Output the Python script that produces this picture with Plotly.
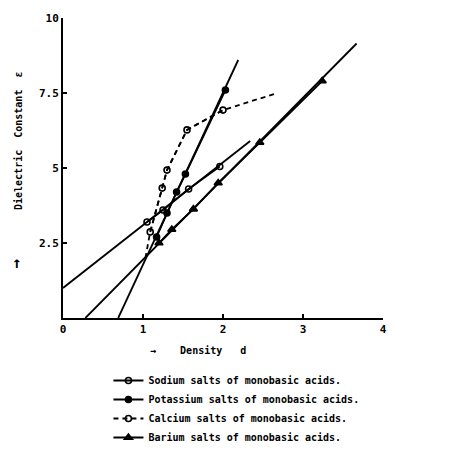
import plotly.graph_objects as go

# Data: full line extents
sodium_line_x = [0.0, 2.34]
sodium_line_y = [1.0, 5.9]
potassium_line_x = [0.69, 2.19]
potassium_line_y = [0.0, 8.6]
calcium_line_x = [1.03, 1.09, 1.24, 1.3, 1.55, 2.0, 2.68]
calcium_line_y = [2.0, 2.87, 4.33, 4.93, 6.27, 6.93, 7.5]
barium_line_x = [0.28, 3.67]
barium_line_y = [0.0, 9.15]

# Measured points (markers)
sodium_x = [1.05, 1.25, 1.57, 1.96]
sodium_y = [3.2, 3.6, 4.3, 5.05]
potassium_x = [1.17, 1.3, 1.42, 1.53, 2.03]
potassium_y = [2.7, 3.5, 4.2, 4.8, 7.6]
calcium_x = [1.09, 1.24, 1.3, 1.55, 2.0]
calcium_y = [2.87, 4.33, 4.93, 6.27, 6.93]
barium_x = [1.2, 1.36, 1.63, 1.94, 2.46, 3.24]
barium_y = [2.5, 2.95, 3.63, 4.5, 5.85, 7.9]

x_ticks = [0, 1, 2, 3, 4]
y_ticks = [2.5, 5, 7.5, 10]
y_tick_text = ["2.5", "5", "7.5", "10"]

FONT = "DejaVu Sans Mono"

series = [
    ("Sodium salts of monobasic acids.", sodium_line_x, sodium_line_y, sodium_x, sodium_y,
     "circle-open", 6, "solid"),
    ("Potassium salts of monobasic acids.", potassium_line_x, potassium_line_y, potassium_x, potassium_y,
     "circle", 6, "solid"),
    ("Calcium salts of monobasic acids.", calcium_line_x, calcium_line_y, calcium_x, calcium_y,
     "circle-open", 6, "5px,4px"),
    ("Barium salts of monobasic acids.", barium_line_x, barium_line_y, barium_x, barium_y,
     "triangle-up", 7, "solid"),
]

fig = go.Figure()
for i, (name, lx, ly, mx, my, sym, sz, dash) in enumerate(series):
    fig.add_trace(go.Scatter(x=lx, y=ly, mode="lines", legendgroup="g%d" % i, showlegend=False,
                             line=dict(color="black", width=1.8, dash=dash), hoverinfo="skip"))
    fig.add_trace(go.Scatter(x=mx, y=my, mode="lines+markers", legendgroup="g%d" % i,
                             name="<b>%s</b>" % name,
                             line=dict(color="black", width=1.8, dash=dash),
                             marker=dict(symbol=sym, size=sz, color="black",
                                         line=dict(width=1.6, color="black"))))

fig.update_layout(
    width=476, height=474,
    margin=dict(l=63, r=93, t=18, b=156),
    paper_bgcolor="white", plot_bgcolor="white",
    font=dict(family=FONT, size=10, color="black"),
    showlegend=True,
    legend=dict(x=0.142, y=-0.16, xanchor="left", yanchor="top",
                font=dict(family=FONT, size=10, color="black"),
                bgcolor="rgba(0,0,0,0)", tracegroupgap=0, itemwidth=30),
    xaxis=dict(range=[0, 4], tickvals=x_ticks, ticktext=["<b>%d</b>" % v for v in x_ticks],
               showgrid=False, zeroline=False, showline=True, linecolor="black", linewidth=2,
               ticks="inside", ticklen=4, tickwidth=1.5, tickcolor="black",
               tickfont=dict(family=FONT, size=11)),
    yaxis=dict(range=[0, 10], tickvals=y_ticks, ticktext=["<b>%s</b>" % t for t in y_tick_text],
               showgrid=False, zeroline=False, showline=True, linecolor="black", linewidth=2,
               ticks="inside", ticklen=4, tickwidth=1.5, tickcolor="black",
               tickfont=dict(family=FONT, size=11)),
)

fig.add_annotation(text="<b>\u2192    Density   d</b>", xref="paper", yref="paper",
                   x=(148 - 63) / 320, y=-(350 - 318) / 300, xanchor="left", yanchor="middle",
                   showarrow=False, font=dict(family=FONT, size=10))
fig.add_annotation(text="<b>Dielectric  Constant  \u03b5</b>", xref="paper", yref="paper",
                   x=-(63 - 18) / 320, y=(318 - 141) / 300, textangle=-90,
                   xanchor="center", yanchor="middle",
                   showarrow=False, font=dict(family=FONT, size=10))
fig.add_annotation(text="<b>\u2191</b>", xref="paper", yref="paper",
                   x=-(63 - 17) / 320, y=(318 - 262) / 300,
                   xanchor="center", yanchor="middle",
                   showarrow=False, font=dict(family=FONT, size=16))

fig.write_html("out.html")
